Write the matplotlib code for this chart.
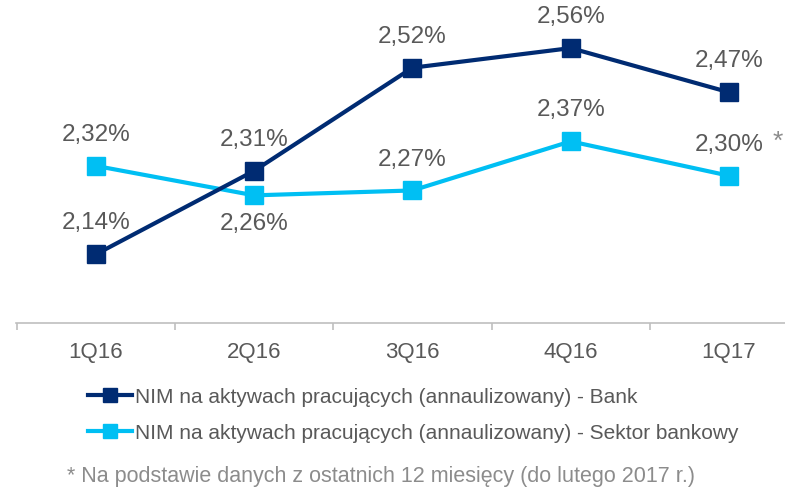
import matplotlib.pyplot as plt
from matplotlib.lines import Line2D

plt.rcParams['font.family'] = ['Liberation Sans', 'DejaVu Sans']

quarters = ['1Q16', '2Q16', '3Q16', '4Q16', '1Q17']
nim_bank = [2.14, 2.31, 2.52, 2.56, 2.47]
nim_sector = [2.32, 2.26, 2.27, 2.37, 2.30]
bank_label = 'NIM na aktywach pracujących (annaulizowany) - Bank'
sector_label = 'NIM na aktywach pracujących (annaulizowany) - Sektor bankowy'
footnote = '* Na podstawie danych z ostatnich 12 miesięcy (do lutego 2017 r.)'

navy = '#002B72'
cyan = '#00BFF3'
grey = '#595959'

# label above (+) or below (-) marker, in points
bank_off = [23, 23, 23, 23, 23]
sector_off = [23, -20, 23, 23, 23]

def fmt(v):
    return ('%.2f%%' % v).replace('.', ',')

fig = plt.figure(figsize=(7.85, 4.89), dpi=100)
ax = fig.add_axes([16 / 785, 1 - 324 / 489, 1 - 16 / 785, 324 / 489])

x = list(range(len(quarters)))
ax.plot(x, nim_bank, color=navy, lw=3, marker='s', ms=12.5, zorder=3)
ax.plot(x, nim_sector, color=cyan, lw=3, marker='s', ms=12.5, zorder=2)

for i in x:
    ax.annotate(fmt(nim_bank[i]), (i, nim_bank[i]), xytext=(0, bank_off[i]),
                textcoords='offset points', ha='center', va='center',
                fontsize=17.5, color=grey)
    ax.annotate(fmt(nim_sector[i]), (i, nim_sector[i]), xytext=(0, sector_off[i]),
                textcoords='offset points', ha='center', va='center',
                fontsize=17.5, color=grey)
ax.annotate('*', (4, nim_sector[4]), xytext=(35, 25), textcoords='offset points',
            ha='center', va='center', fontsize=19, color='#8c8c8c')

for s in ['top', 'right', 'left']:
    ax.spines[s].set_visible(False)
ax.spines['bottom'].set_color('#bfbfbf')
ax.spines['bottom'].set_linewidth(1.2)
ax.set_yticks([])
ax.set_xticks([i - 0.5 for i in range(len(quarters) + 1)])
ax.set_xticklabels([])
ax.set_xticks(x, minor=True)
ax.set_xticklabels(quarters, minor=True, fontsize=16, color=grey)
ax.tick_params(axis='x', which='major', length=5, color='#bfbfbf', width=1.2)
ax.tick_params(axis='x', which='minor', length=0, pad=13)
ax.set_xlim(-0.505, 4.354)
ax.set_ylim(2.0, 2.66)

handles = [Line2D([], [], color=navy, lw=3, marker='s', ms=10),
           Line2D([], [], color=cyan, lw=3, marker='s', ms=10)]
fig.legend(handles, [bank_label, sector_label], loc='upper left',
           bbox_to_anchor=(88 / 785, 1 - 388 / 489), frameon=False,
           fontsize=15, labelcolor=grey, handlelength=2.1, handletextpad=0.15,
           labelspacing=0.83, borderpad=0, borderaxespad=0)

fig.text(67 / 785, 2 / 489, footnote, fontsize=15.5, color='#8c8c8c',
         ha='left', va='bottom')

fig.savefig('out.png', dpi=100)
